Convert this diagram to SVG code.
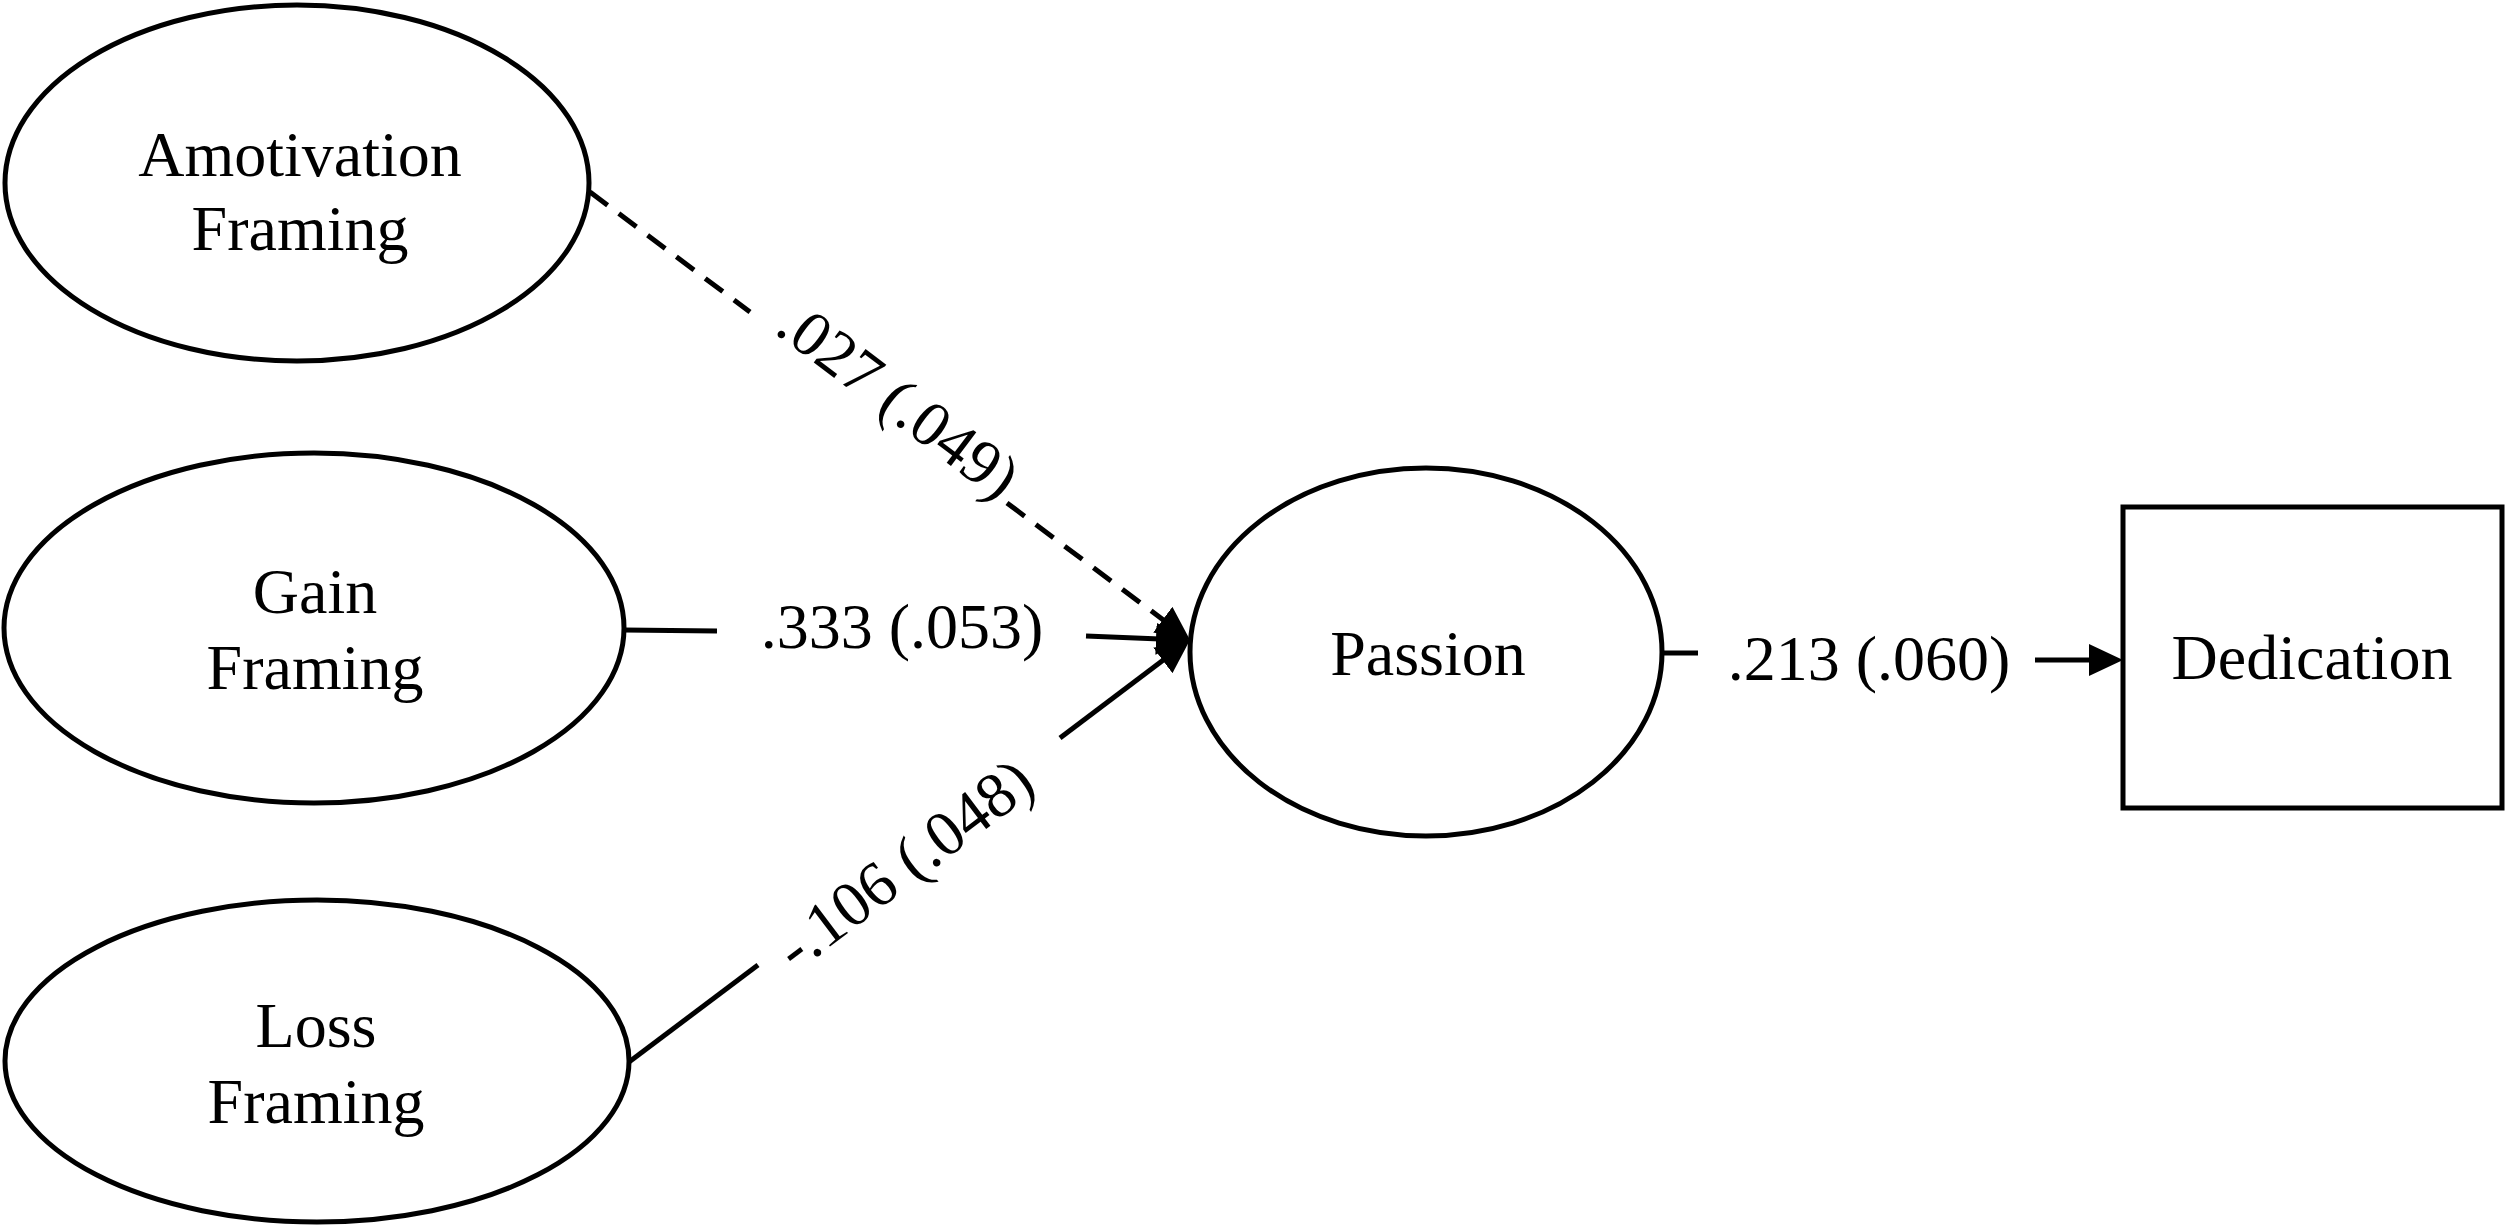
<svg xmlns="http://www.w3.org/2000/svg" width="2508" height="1231" viewBox="0 0 2508 1231">
<style>
  .shape { fill: #ffffff; stroke: #000000; stroke-width: 5; }
  .lbl { font-family: "Liberation Serif", "Times New Roman", serif; font-size: 64px; fill: #000000; text-anchor: middle; }
  .edge { fill: none; stroke: #000000; stroke-width: 5; }
  .dash { stroke-dasharray: 22 14; }
</style>
<defs>
  <marker id="arrow" markerUnits="userSpaceOnUse" viewBox="0 0 34 32" markerWidth="34" markerHeight="32" refX="4" refY="16" orient="auto">
    <path d="M0,0 L34,16 L0,32 z" fill="#000000"/>
  </marker>
</defs>
<rect x="0" y="0" width="2508" height="1231" fill="#ffffff"/>

<g id="node-amotivation">
  <ellipse class="shape" cx="297" cy="183" rx="292" ry="178"/>
  <text class="lbl" x="300" y="176">Amotivation</text>
  <text class="lbl" x="300" y="250">Framing</text>
</g>
<g id="node-gain">
  <ellipse class="shape" cx="314" cy="628" rx="310" ry="175"/>
  <text class="lbl" x="315" y="613">Gain</text>
  <text class="lbl" x="315" y="689">Framing</text>
</g>
<g id="node-loss">
  <ellipse class="shape" cx="317" cy="1061" rx="312" ry="161"/>
  <text class="lbl" x="316" y="1047">Loss</text>
  <text class="lbl" x="316" y="1123">Framing</text>
</g>
<g id="node-passion">
  <ellipse class="shape" cx="1426" cy="652" rx="236" ry="184"/>
  <text class="lbl" x="1428" y="675">Passion</text>
</g>
<g id="node-dedication">
  <rect class="shape" x="2123" y="507" width="379" height="301"/>
  <text class="lbl" x="2312" y="679">Dedication</text>
</g>

<g id="connectors">
  <!-- Amotivation -> Passion (dashed) -->
  <line class="edge dash" x1="590" y1="192" x2="750" y2="312"/>
  <line class="edge dash" x1="1007" y1="503" x2="1166" y2="622" marker-end="url(#arrow)"/>
  <text class="lbl" x="886" y="417" transform="rotate(37 886 417)">.027 (.049)</text>

  <!-- Gain -> Passion -->
  <line class="edge" x1="624" y1="630" x2="717" y2="631"/>
  <line class="edge" x1="1086" y1="636" x2="1160" y2="639" marker-end="url(#arrow)"/>
  <text class="lbl" x="902" y="648">.333 (.053)</text>

  <!-- Loss -> Passion -->
  <line class="edge" x1="629" y1="1062" x2="758" y2="965"/>
  <line class="edge" x1="1060" y1="738" x2="1166" y2="658" marker-end="url(#arrow)"/>
  <text class="lbl" x="917" y="881" transform="rotate(-37 917 881)">-.106 (.048)</text>

  <!-- Passion -> Dedication -->
  <line class="edge" x1="1662" y1="653" x2="1698" y2="653"/>
  <line class="edge" x1="2035" y1="660" x2="2093" y2="660" marker-end="url(#arrow)"/>
  <text class="lbl" x="1869" y="680">.213 (.060)</text>
</g>
</svg>
